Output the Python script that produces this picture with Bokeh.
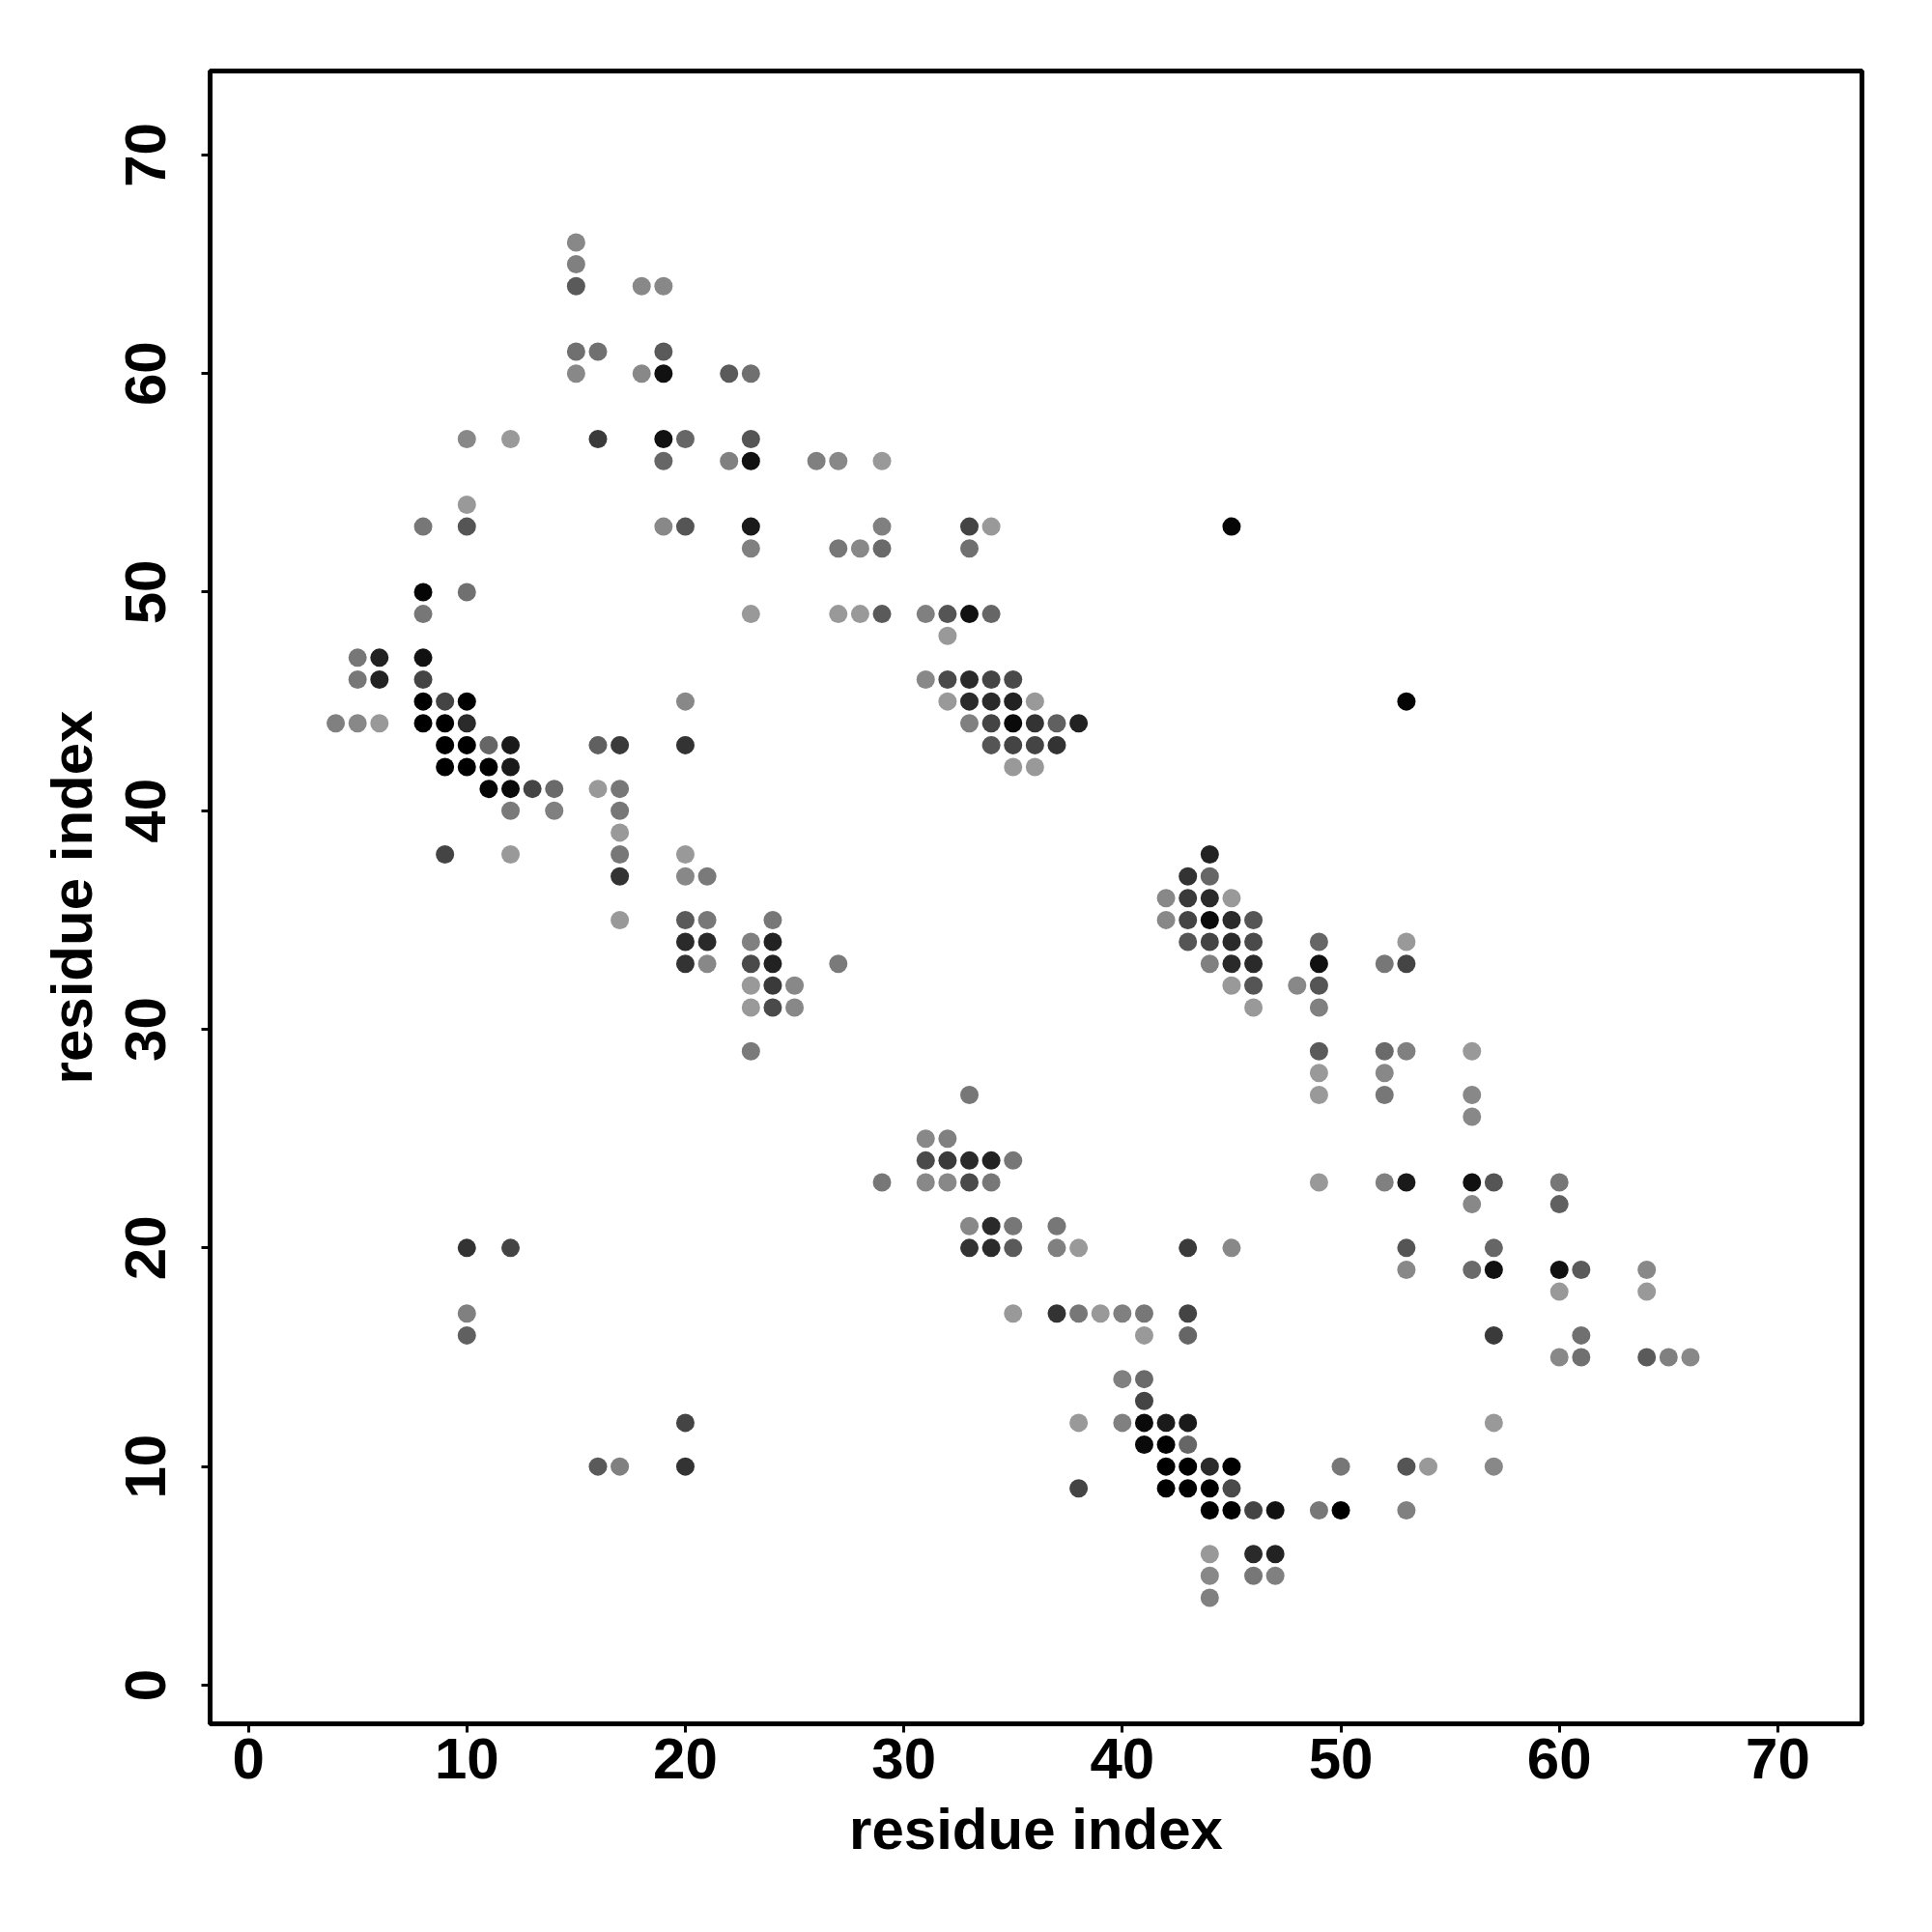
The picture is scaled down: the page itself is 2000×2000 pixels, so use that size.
from bokeh.plotting import figure
from bokeh.models import ColumnDataSource, FixedTicker, Range1d
from bokeh.embed import file_html
from bokeh.resources import INLINE

# contact map: residue i (x), residue j (y), grey level of the dot (0 = black)
res_x = [
    4,
    5, 5, 5,
    6, 6, 6,
    8, 8, 8, 8, 8, 8, 8,
    9, 9, 9, 9, 9,
    10, 10, 10, 10, 10, 10, 10, 10, 10, 10, 10,
    11, 11, 11,
    12, 12, 12, 12, 12, 12, 12,
    13,
    14, 14,
    15, 15, 15, 15, 15,
    16, 16, 16, 16, 16,
    17, 17, 17, 17, 17, 17, 17, 17,
    18, 18,
    19, 19, 19, 19, 19, 19,
    20, 20, 20, 20, 20, 20, 20, 20, 20, 20, 20,
    21, 21, 21, 21,
    22, 22,
    23, 23, 23, 23, 23, 23, 23, 23, 23, 23, 23,
    24, 24, 24, 24, 24,
    25, 25,
    26,
    27, 27, 27, 27,
    28, 28,
    29, 29, 29, 29, 29,
    31, 31, 31, 31, 31,
    32, 32, 32, 32, 32, 32, 32,
    33, 33, 33, 33, 33, 33, 33, 33, 33, 33, 33,
    34, 34, 34, 34, 34, 34, 34, 34, 34, 34,
    35, 35, 35, 35, 35, 35, 35, 35, 35,
    36, 36, 36, 36,
    37, 37, 37, 37, 37,
    38, 38, 38, 38, 38,
    39,
    40, 40, 40,
    41, 41, 41, 41, 41, 41,
    42, 42, 42, 42, 42, 42,
    43, 43, 43, 43, 43, 43, 43, 43, 43, 43, 43,
    44, 44, 44, 44, 44, 44, 44, 44, 44, 44, 44, 44,
    45, 45, 45, 45, 45, 45, 45, 45, 45, 45,
    46, 46, 46, 46, 46, 46, 46, 46,
    47, 47, 47,
    48,
    49, 49, 49, 49, 49, 49, 49, 49, 49,
    50, 50,
    52, 52, 52, 52, 52,
    53, 53, 53, 53, 53, 53, 53, 53, 53,
    54,
    56, 56, 56, 56, 56, 56,
    57, 57, 57, 57, 57, 57,
    60, 60, 60, 60, 60,
    61, 61, 61,
    64, 64, 64,
    65,
    66,
]

res_y = [
    44,
    47, 46, 44,
    47, 46, 44,
    53, 50, 49, 47, 46, 45, 44,
    45, 44, 43, 42, 38,
    57, 54, 53, 50, 45, 44, 43, 42, 20, 17, 16,
    43, 42, 41,
    57, 43, 42, 41, 40, 38, 20,
    41,
    41, 40,
    66, 65, 64, 61, 60,
    61, 57, 43, 41, 10,
    43, 41, 40, 39, 38, 37, 35, 10,
    64, 60,
    64, 61, 60, 57, 56, 53,
    57, 53, 45, 43, 38, 37, 35, 34, 33, 12, 10,
    37, 35, 34, 33,
    60, 56,
    60, 57, 56, 53, 52, 49, 34, 33, 32, 31, 29,
    35, 34, 33, 32, 31,
    32, 31,
    56,
    56, 52, 49, 33,
    52, 49,
    56, 53, 52, 49, 23,
    49, 46, 25, 24, 23,
    49, 48, 46, 45, 25, 24, 23,
    53, 52, 49, 46, 45, 44, 27, 24, 23, 21, 20,
    53, 49, 46, 45, 44, 43, 24, 23, 21, 20,
    46, 45, 44, 43, 42, 24, 21, 20, 17,
    45, 44, 43, 42,
    44, 43, 21, 20, 17,
    44, 20, 17, 12, 9,
    17,
    17, 14, 12,
    17, 16, 14, 13, 12, 11,
    36, 35, 12, 11, 10, 9,
    37, 36, 35, 34, 20, 17, 16, 12, 11, 10, 9,
    38, 37, 36, 35, 34, 33, 10, 9, 8, 6, 5, 4,
    53, 36, 35, 34, 33, 32, 20, 10, 9, 8,
    35, 34, 33, 32, 31, 8, 6, 5,
    8, 6, 5,
    32,
    34, 33, 32, 31, 29, 28, 27, 23, 8,
    10, 8,
    33, 29, 28, 27, 23,
    45, 34, 33, 29, 23, 20, 19, 10, 8,
    10,
    29, 27, 26, 23, 22, 19,
    23, 20, 19, 16, 12, 10,
    23, 22, 19, 18, 15,
    19, 16, 15,
    19, 18, 15,
    15,
    15,
]

shade = [
    0x80,
    0x77, 0x77, 0x88,
    0x22, 0x22, 0x99,
    0x77, 0x05, 0x77, 0x11, 0x44, 0x00, 0x00,
    0x44, 0x00, 0x00, 0x00, 0x44,
    0x88, 0x99, 0x55, 0x70, 0x00, 0x2a, 0x00, 0x00, 0x33, 0x80, 0x60,
    0x66, 0x00, 0x05,
    0x99, 0x1a, 0x1a, 0x0a, 0x7a, 0x99, 0x44,
    0x44,
    0x6a, 0x80,
    0x88, 0x80, 0x5a, 0x70, 0x88,
    0x70, 0x3a, 0x60, 0x99, 0x5a,
    0x3a, 0x77, 0x77, 0x99, 0x77, 0x33, 0x99, 0x80,
    0x88, 0x88,
    0x88, 0x5a, 0x11, 0x11, 0x66, 0x88,
    0x66, 0x55, 0x88, 0x33, 0x99, 0x88, 0x5a, 0x2a, 0x33, 0x44, 0x33,
    0x7a, 0x77, 0x2a, 0x88,
    0x5a, 0x80,
    0x70, 0x55, 0x11, 0x1a, 0x80, 0x99, 0x80, 0x4a, 0x99, 0x99, 0x7a,
    0x77, 0x22, 0x22, 0x3a, 0x4a,
    0x88, 0x88,
    0x80,
    0x88, 0x77, 0x99, 0x7a,
    0x88, 0x99,
    0x99, 0x80, 0x6a, 0x5a, 0x77,
    0x80, 0x88, 0x88, 0x4a, 0x88,
    0x55, 0x99, 0x4a, 0x99, 0x80, 0x3a, 0x88,
    0x44, 0x70, 0x11, 0x2a, 0x2a, 0x80, 0x77, 0x2a, 0x4a, 0x88, 0x33,
    0x99, 0x66, 0x44, 0x2a, 0x44, 0x55, 0x22, 0x77, 0x2a, 0x2a,
    0x4a, 0x22, 0x0a, 0x44, 0x99, 0x77, 0x77, 0x5a, 0x99,
    0x99, 0x33, 0x44, 0x99,
    0x60, 0x33, 0x77, 0x80, 0x33,
    0x22, 0x99, 0x77, 0x99, 0x44,
    0x99,
    0x80, 0x80, 0x80,
    0x77, 0x99, 0x6a, 0x44, 0x0a, 0x0a,
    0x88, 0x88, 0x1a, 0x00, 0x00, 0x00,
    0x33, 0x3a, 0x44, 0x55, 0x3a, 0x44, 0x66, 0x1a, 0x66, 0x00, 0x00,
    0x22, 0x66, 0x2a, 0x0a, 0x44, 0x80, 0x2a, 0x00, 0x00, 0x99, 0x88, 0x80,
    0x05, 0x99, 0x2a, 0x2a, 0x2a, 0x99, 0x88, 0x00, 0x4a, 0x00,
    0x55, 0x4a, 0x2a, 0x55, 0x99, 0x44, 0x2a, 0x77,
    0x11, 0x22, 0x80,
    0x88,
    0x66, 0x11, 0x55, 0x80, 0x5a, 0x99, 0x99, 0x99, 0x77,
    0x77, 0x00,
    0x77, 0x6a, 0x88, 0x77, 0x80,
    0x05, 0x99, 0x44, 0x80, 0x1a, 0x55, 0x88, 0x55, 0x80,
    0x99,
    0x99, 0x88, 0x88, 0x11, 0x88, 0x6a,
    0x55, 0x66, 0x11, 0x3a, 0x99, 0x88,
    0x77, 0x60, 0x11, 0x99, 0x88,
    0x5a, 0x70, 0x70,
    0x88, 0x99, 0x5a,
    0x80,
    0x88,
]

tick_values = [0, 10, 20, 30, 40, 50, 60, 70]
axis_title = "residue index"

colors = ["#%02x%02x%02x" % (g, g, g) for g in shade]
src = ColumnDataSource(dict(x=res_x, y=res_y, c=colors))

p = figure(
    frame_width=1710, frame_height=1711,
    min_border_left=217, min_border_top=73,
    min_border_right=45, min_border_bottom=180,
    x_range=Range1d(-1.75, 73.85), y_range=Range1d(-1.77, 73.84),
    output_backend="svg", toolbar_location=None,
)

p.scatter("x", "y", source=src, size=19, fill_color="c", line_color=None)

p.grid.visible = False
p.outline_line_color = "black"
p.outline_line_width = 5
p.background_fill_color = "white"
p.border_fill_color = "white"

for ax in (p.xaxis[0], p.yaxis[0]):
    ax.ticker = FixedTicker(ticks=tick_values, minor_ticks=[])
    ax.axis_line_color = None
    ax.major_tick_line_color = "black"
    ax.major_tick_line_width = 3
    ax.major_tick_in = 0
    ax.major_tick_out = 9
    ax.minor_tick_line_color = None
    ax.major_label_text_font = "Liberation Sans"
    ax.major_label_text_font_style = "bold"
    ax.major_label_text_font_size = "60px"
    ax.major_label_text_color = "black"
    ax.axis_label = axis_title
    ax.axis_label_text_font = "Liberation Sans"
    ax.axis_label_text_font_style = "bold"
    ax.axis_label_text_font_size = "60px"
    ax.axis_label_text_color = "black"

p.xaxis[0].major_label_standoff = 6
p.xaxis[0].axis_label_standoff = 16
p.yaxis[0].major_label_orientation = "vertical"
p.yaxis[0].major_label_standoff = 37
p.yaxis[0].axis_label_standoff = 20

open("out.html", "w").write(file_html(p, INLINE))
